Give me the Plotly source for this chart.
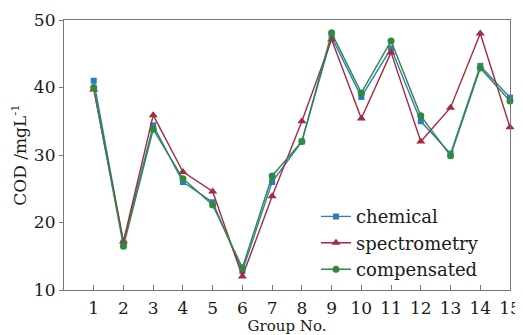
import plotly.graph_objects as go

groups = list(range(1, 16))
chemical = [41.0, 17.0, 34.4, 26.0, 23.0, 12.8, 26.0, 32.0, 47.5, 38.6, 45.8, 35.0, 30.2, 43.2, 38.5]
spectrometry = [39.7, 17.2, 35.9, 27.5, 24.6, 12.0, 23.9, 35.0, 47.1, 35.4, 45.2, 32.0, 37.0, 48.0, 34.1]
compensated = [40.0, 16.5, 33.8, 26.5, 22.6, 13.3, 26.9, 32.0, 48.1, 39.2, 46.9, 35.8, 29.9, 42.9, 38.0]
x_ticks = [str(g) for g in groups]
y_ticks = [10, 20, 30, 40, 50]

FONT = "DejaVu Serif"
TXT = "#1a1a1a"
series = [
    ("chemical", chemical, "#2b7cc2", "square", 6),
    ("spectrometry", spectrometry, "#a8283e", "triangle-up", 8),
    ("compensated", compensated, "#2f8a3c", "circle", 7),
]

fig = go.Figure()
for name, vals, col, sym, sz in series:
    fig.add_trace(go.Scatter(
        x=groups, y=vals, name=name, mode="lines+markers",
        line=dict(color=col, width=1.4),
        marker=dict(symbol=sym, size=sz, color=col),
        cliponaxis=False,
    ))

axis_common = dict(
    showline=True, linecolor="#777777", linewidth=1.2, mirror=True,
    showgrid=False, zeroline=False, tickcolor="#777777", automargin=False,
    tickfont=dict(family=FONT, size=17, color=TXT),
)
fig.update_xaxes(range=[0, 15], tickvals=groups, ticktext=x_ticks,
                 ticks="inside", ticklen=5, ticklabelstandoff=2,
                 title=dict(text="Group No.", font=dict(family=FONT, size=15, color=TXT), standoff=4),
                 **axis_common)
fig.update_yaxes(range=[10, 50], tickvals=y_ticks,
                 ticks="outside", ticklen=4,
                 title=dict(text="COD /mgL<sup>-1</sup>", font=dict(family=FONT, size=17, color=TXT), standoff=4),
                 **axis_common)

# page body adds an 8px margin; the figure is sized so the plot sits where the reference's does
fig.update_layout(
    width=515, height=327,
    margin=dict(l=56, r=13, t=12, b=45, autoexpand=False),
    plot_bgcolor="white", paper_bgcolor="white",
    legend=dict(x=0.565, y=0.34, xanchor="left", yanchor="top",
                font=dict(family=FONT, size=18, color=TXT),
                bgcolor="rgba(0,0,0,0)", itemwidth=30, tracegroupgap=0),
    font=dict(family=FONT),
)
fig.write_html("out.html")
